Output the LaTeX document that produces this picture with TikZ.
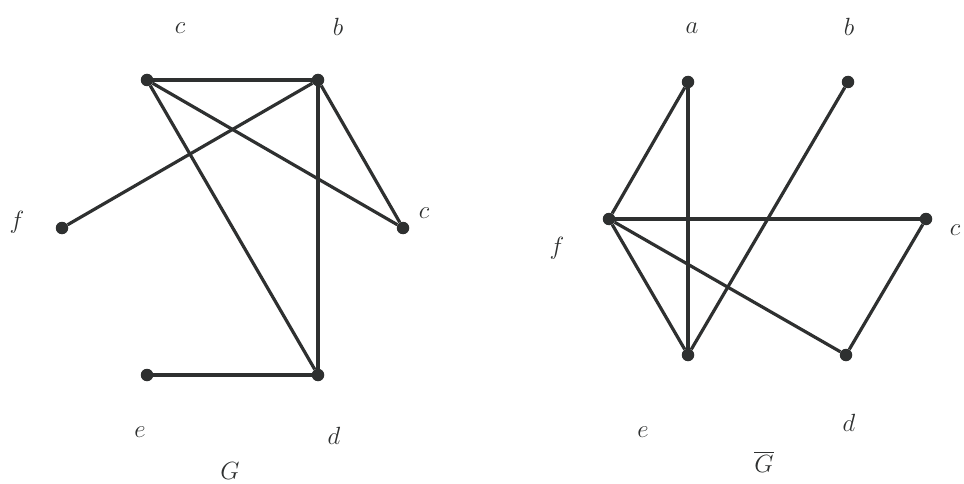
\documentclass[tikz,border=0pt]{standalone}
\usepackage{amsmath}
\usepackage{tikz}
\usetikzlibrary{positioning}
\definecolor{ink}{HTML}{2E3030}
\tikzset{
  vertex/.style={circle,fill=ink,draw=none,inner sep=0pt,minimum size=12.5pt},
  vlabel/.style={font=\fontsize{27}{30}\selectfont,text=ink,inner sep=0pt},
  gedge/.style={draw=ink,line width=3.2pt}
}

\begin{document}
\begin{tikzpicture}[x=1pt,y=-1pt]
  \useasboundingbox (0,0) rectangle (964,484);
  % graph G
  \node[vertex] (lc) at (147,80) {};
  \node[vertex] (lb) at (318,80) {};
  \node[vertex] (lf) at (62,228) {};
  \node[vertex] (lcc) at (403,228) {};
  \node[vertex] (le) at (147,375) {};
  \node[vertex] (ld) at (318,375) {};
  \draw[gedge] (lc) -- (lb);
  \draw[gedge] (lc) -- (lcc);
  \draw[gedge] (lc) -- (ld);
  \draw[gedge] (lb) -- (lf);
  \draw[gedge] (lb) -- (lcc);
  \draw[gedge] (lb) -- (ld);
  \draw[gedge] (le) -- (ld);
  \node[vlabel] (tlc) at (180,28) {$c$};
  \node[vlabel] (tlb) at (338,27) {$b$};
  \node[vlabel] (tlf) at (17,222) {$f$};
  \node[vlabel] (tlcc) at (424,213) {$c$};
  \node[vlabel] (tle) at (140,432) {$e$};
  \node[vlabel] (tld) at (334,436) {$d$};
  \node[vlabel] (tG) at (230,471) {$G$};
  % complement of G
  \node[vertex] (ra) at (688,82) {};
  \node[vertex] (rb) at (848,82) {};
  \node[vertex] (rf) at (609,219) {};
  \node[vertex] (rc) at (926,219) {};
  \node[vertex] (re) at (688,355) {};
  \node[vertex] (rd) at (846,355) {};
  \draw[gedge] (ra) -- (rf);
  \draw[gedge] (ra) -- (re);
  \draw[gedge] (rb) -- (re);
  \draw[gedge] (rf) -- (rc);
  \draw[gedge] (rf) -- (re);
  \draw[gedge] (rf) -- (rd);
  \draw[gedge] (rc) -- (rd);
  \node[vlabel] (tra) at (692,28) {$a$};
  \node[vlabel] (trb) at (849,27) {$b$};
  \node[vlabel] (trf) at (557,248) {$f$};
  \node[vlabel] (trc) at (955,230) {$c$};
  \node[vlabel] (tre) at (643,432) {$e$};
  \node[vlabel] (trd) at (849,423) {$d$};
  \node[vlabel] (tGbar) at (764,462) {$\overline{G}$};
\end{tikzpicture}
\end{document}
